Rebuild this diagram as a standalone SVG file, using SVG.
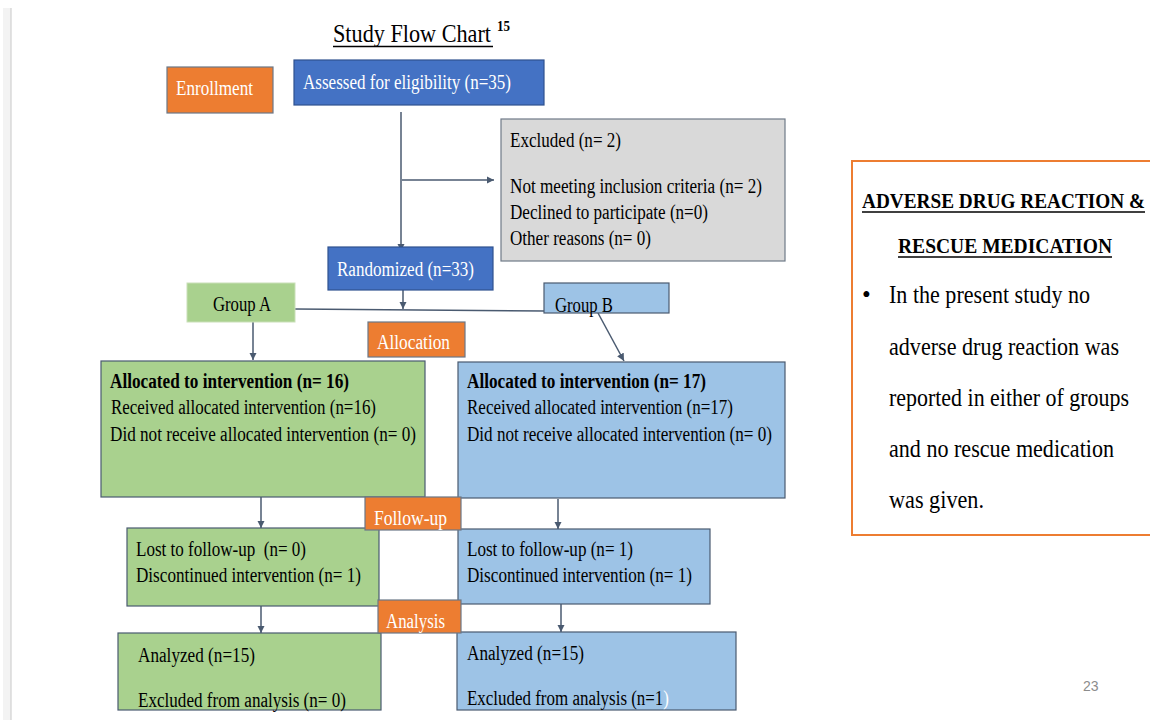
<svg xmlns="http://www.w3.org/2000/svg" width="1150" height="720" viewBox="0 0 1150 720">
<defs>
<style>
.t{font-family:"Liberation Serif","Times New Roman",serif;font-size:20px;fill:#000;white-space:pre}
.w{fill:#fff}
.b{font-weight:bold}
.box{stroke:#4a5a70;stroke-width:1.2}
.or{fill:#ED7D31;stroke:#6b7787;stroke-width:1.2}
.bl{fill:#4472C4;stroke:#2F528F;stroke-width:1.2}
.gr{fill:#A9D18E}
.lb{fill:#9DC3E6}
.conn{stroke:#4a5a70;stroke-width:1.5;fill:none}
</style>
<marker id="ah" viewBox="0 0 10 10" refX="10" refY="5" markerWidth="5" markerHeight="5" orient="auto" markerUnits="strokeWidth">
<path d="M0,0 L10,5 L0,10 Z" fill="#4a5a70"/>
</marker>
</defs>
<rect width="1150" height="720" fill="#fff"/>
<rect x="3" y="8" width="8" height="712" fill="#f3f3f3"/>
<line x1="11" y1="8" x2="11" y2="720" stroke="#c8c8c8" stroke-width="1"/>

<g id="title">
<text class="t" x="333" y="42" textLength="158" lengthAdjust="spacingAndGlyphs" style="font-size:26px">Study Flow Chart</text>
<line x1="333" y1="46.5" x2="493" y2="46.5" stroke="#000" stroke-width="1.6"/>
<text class="t b" x="497" y="31" style="font-size:14px" textLength="13" lengthAdjust="spacingAndGlyphs">15</text>
</g>

<g id="connectors">
<line class="conn" x1="401" y1="112" x2="401" y2="251" marker-end="url(#ah)"/>
<line class="conn" x1="402" y1="180" x2="494" y2="180" marker-end="url(#ah)"/>
<line class="conn" x1="403" y1="290" x2="403" y2="309" marker-end="url(#ah)"/>
<line class="conn" x1="295" y1="309" x2="545" y2="311"/>
<line class="conn" x1="253" y1="322" x2="253" y2="360" marker-end="url(#ah)"/>
<line class="conn" x1="598" y1="313" x2="624" y2="361" marker-end="url(#ah)"/>
<line class="conn" x1="261" y1="497" x2="261" y2="528" marker-end="url(#ah)"/>
<line class="conn" x1="558" y1="499" x2="558" y2="529" marker-end="url(#ah)"/>
<line class="conn" x1="261" y1="606" x2="261" y2="633" marker-end="url(#ah)"/>
<line class="conn" x1="561" y1="604" x2="561" y2="632" marker-end="url(#ah)"/>
</g>

<g id="enrollment">
<rect class="or" x="167" y="67" width="106" height="46"/>
<text class="t w" x="176" y="95" textLength="77" lengthAdjust="spacingAndGlyphs">Enrollment</text>
</g>

<g id="assessed">
<rect class="bl" x="294" y="60" width="250" height="45"/>
<text class="t w" x="303" y="89" textLength="208" lengthAdjust="spacingAndGlyphs">Assessed for eligibility (n=35)</text>
</g>

<g id="excluded">
<rect x="501" y="119" width="284" height="142" fill="#D9D9D9" stroke="#6f7a88" stroke-width="1.2"/>
<text class="t" x="510" y="147" textLength="111" lengthAdjust="spacingAndGlyphs">Excluded (n= 2)</text>
<text class="t" x="510" y="193" textLength="252" lengthAdjust="spacingAndGlyphs">Not meeting inclusion criteria (n= 2)</text>
<text class="t" x="510" y="219" textLength="198" lengthAdjust="spacingAndGlyphs">Declined to participate (n=0)</text>
<text class="t" x="510" y="245" textLength="141" lengthAdjust="spacingAndGlyphs">Other reasons (n= 0)</text>
</g>

<g id="randomized">
<rect class="bl" x="328" y="247" width="165" height="43"/>
<text class="t w" x="337" y="276" textLength="137" lengthAdjust="spacingAndGlyphs">Randomized (n=33)</text>
</g>

<g id="groupA">
<rect class="gr" x="187" y="283" width="108" height="39" stroke="#c9dfb8" stroke-width="1"/>
<text class="t" x="213" y="311" textLength="58" lengthAdjust="spacingAndGlyphs">Group A</text>
</g>

<g id="groupB">
<rect class="lb box" x="544" y="283" width="125" height="30"/>
<text class="t" x="555" y="312" textLength="58" lengthAdjust="spacingAndGlyphs">Group B</text>
</g>

<g id="allocation">
<rect class="or" x="368" y="322" width="97" height="35"/>
<text class="t w" x="377" y="349" textLength="73" lengthAdjust="spacingAndGlyphs">Allocation</text>
</g>

<g id="allocA">
<rect class="gr box" x="101" y="361" width="324" height="136"/>
<text class="t b" x="110" y="388" textLength="239" lengthAdjust="spacingAndGlyphs">Allocated to intervention (n= 16)</text>
<text class="t" x="111" y="414" textLength="265" lengthAdjust="spacingAndGlyphs">Received allocated intervention (n=16)</text>
<text class="t" x="110" y="441" textLength="306" lengthAdjust="spacingAndGlyphs">Did not receive allocated intervention (n= 0)</text>
</g>

<g id="allocB">
<rect class="lb box" x="458" y="362" width="327" height="136"/>
<text class="t b" x="467" y="388" textLength="239" lengthAdjust="spacingAndGlyphs">Allocated to intervention (n= 17)</text>
<text class="t" x="467" y="414" textLength="266" lengthAdjust="spacingAndGlyphs">Received allocated intervention (n=17)</text>
<text class="t" x="467" y="441" textLength="305" lengthAdjust="spacingAndGlyphs">Did not receive allocated intervention (n= 0)</text>
</g>

<g id="lostA">
<rect class="gr box" x="127" y="528" width="252" height="78"/>
<text class="t" x="136" y="556" textLength="170" lengthAdjust="spacingAndGlyphs">Lost to follow-up  (n= 0)</text>
<text class="t" x="136" y="582" textLength="225" lengthAdjust="spacingAndGlyphs">Discontinued intervention (n= 1)</text>
</g>

<g id="lostB">
<rect class="lb box" x="458" y="529" width="252" height="75"/>
<text class="t" x="467" y="556" textLength="166" lengthAdjust="spacingAndGlyphs">Lost to follow-up (n= 1)</text>
<text class="t" x="467" y="582" textLength="225" lengthAdjust="spacingAndGlyphs">Discontinued intervention (n= 1)</text>
</g>

<g id="followup">
<rect class="or" x="365" y="497" width="96" height="33"/>
<text class="t w" x="374" y="525" textLength="73" lengthAdjust="spacingAndGlyphs">Follow-up</text>
</g>

<g id="analyzedA">
<rect class="gr box" x="118" y="633" width="263" height="77"/>
<text class="t" x="138" y="662" textLength="117" lengthAdjust="spacingAndGlyphs">Analyzed (n=15)</text>
<text class="t" x="138" y="707" textLength="208" lengthAdjust="spacingAndGlyphs">Excluded from analysis (n= 0)</text>
</g>

<g id="analyzedB">
<rect class="lb box" x="457" y="632" width="279" height="78"/>
<text class="t" x="467" y="660" textLength="117" lengthAdjust="spacingAndGlyphs">Analyzed (n=15)</text>
<text class="t" x="467" y="705" textLength="202" lengthAdjust="spacingAndGlyphs">Excluded from analysis (n=1<tspan fill="#fff">)</tspan></text>
</g>

<g id="analysis">
<rect class="or" x="378" y="600" width="83" height="33"/>
<text class="t w" x="386" y="628" textLength="59" lengthAdjust="spacingAndGlyphs">Analysis</text>
</g>

<g id="adverse">
<rect x="852" y="161" width="300" height="374" fill="#fff" stroke="#ED7D31" stroke-width="2"/>
<text class="t b" x="862" y="208" style="font-size:22px" textLength="283" lengthAdjust="spacingAndGlyphs">ADVERSE DRUG REACTION &amp;</text>
<line x1="862" y1="212" x2="1145" y2="212" stroke="#000" stroke-width="1.3"/>
<text class="t b" x="898" y="253" style="font-size:22px" textLength="214" lengthAdjust="spacingAndGlyphs">RESCUE MEDICATION</text>
<line x1="898" y1="257" x2="1112" y2="257" stroke="#000" stroke-width="1.3"/>
<text class="t" x="862" y="303" style="font-size:25px">•</text>
<text class="t" x="889" y="303" style="font-size:25px" textLength="201" lengthAdjust="spacingAndGlyphs">In the present study no</text>
<text class="t" x="889" y="355" style="font-size:25px" textLength="230" lengthAdjust="spacingAndGlyphs">adverse drug reaction was</text>
<text class="t" x="889" y="406" style="font-size:25px" textLength="240" lengthAdjust="spacingAndGlyphs">reported in either of groups</text>
<text class="t" x="889" y="457" style="font-size:25px" textLength="225" lengthAdjust="spacingAndGlyphs">and no rescue medication</text>
<text class="t" x="889" y="508" style="font-size:25px" textLength="95" lengthAdjust="spacingAndGlyphs">was given.</text>
</g>

<text x="1083" y="691" font-family="Liberation Sans, Arial, sans-serif" font-size="14" fill="#8c8c8c">23</text>
</svg>
